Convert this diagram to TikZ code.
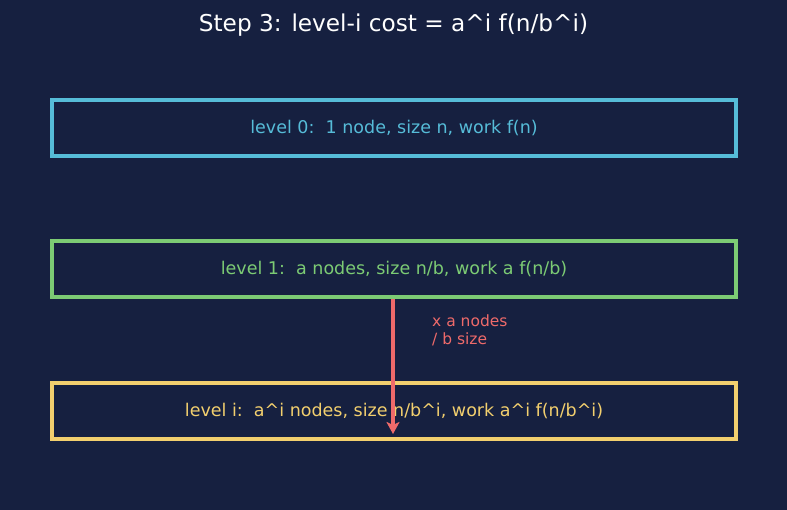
\documentclass[tikz,border=0pt]{standalone}
\usepackage{fontspec}
\setmainfont{DejaVu Sans}
\usetikzlibrary{arrows.meta}
\definecolor{bg}{HTML}{162040}
\definecolor{cyanL}{HTML}{56BCD8}
\definecolor{greenL}{HTML}{7CCB74}
\definecolor{yellowL}{HTML}{F2CF6E}
\definecolor{redL}{HTML}{EE6A6A}
\begin{document}
\begin{tikzpicture}[x=1pt,y=-1pt,
  levelbox/.style={draw=#1, line width=3.5pt, outer sep=0pt, minimum width=684pt, minimum height=56pt, inner sep=0pt, text=#1, font=\fontsize{17.5}{21}\selectfont, anchor=north west},
  lbl/.style={text=redL, font=\fontsize{15.5}{18}\selectfont, align=left, anchor=north west, inner sep=0pt}]
\fill[bg] (0,0) rectangle (787,510);
\useasboundingbox (0,0) rectangle (787,510);
\node[text=white, font=\fontsize{23.2}{27}\selectfont] (title) at (393.5,25.5) {Step 3: level-i cost = a\^{}i f(n/b\^{}i)};
\node[levelbox=cyanL] (l0) at (52,100) {level 0:\ \ 1 node, size n, work f(n)};
\node[levelbox=greenL] (l1) at (52,241) {level 1:\ \ a nodes, size n/b, work a f(n/b)};
\node[levelbox=yellowL] (li) at (52,383) {level i:\ \ a\^{}i nodes, size n/b\^{}i, work a\^{}i f(n/b\^{}i)};
\coordinate (aend) at (393,434);
\draw[redL, line width=3.2pt, -{Stealth[length=12pt,width=13pt,inset=3pt]}] (l1.south -| aend) ++(0,2) -- (aend);
\node[lbl] (lab) at (432,315) {x a nodes\\/ b size};
\end{tikzpicture}
\end{document}
